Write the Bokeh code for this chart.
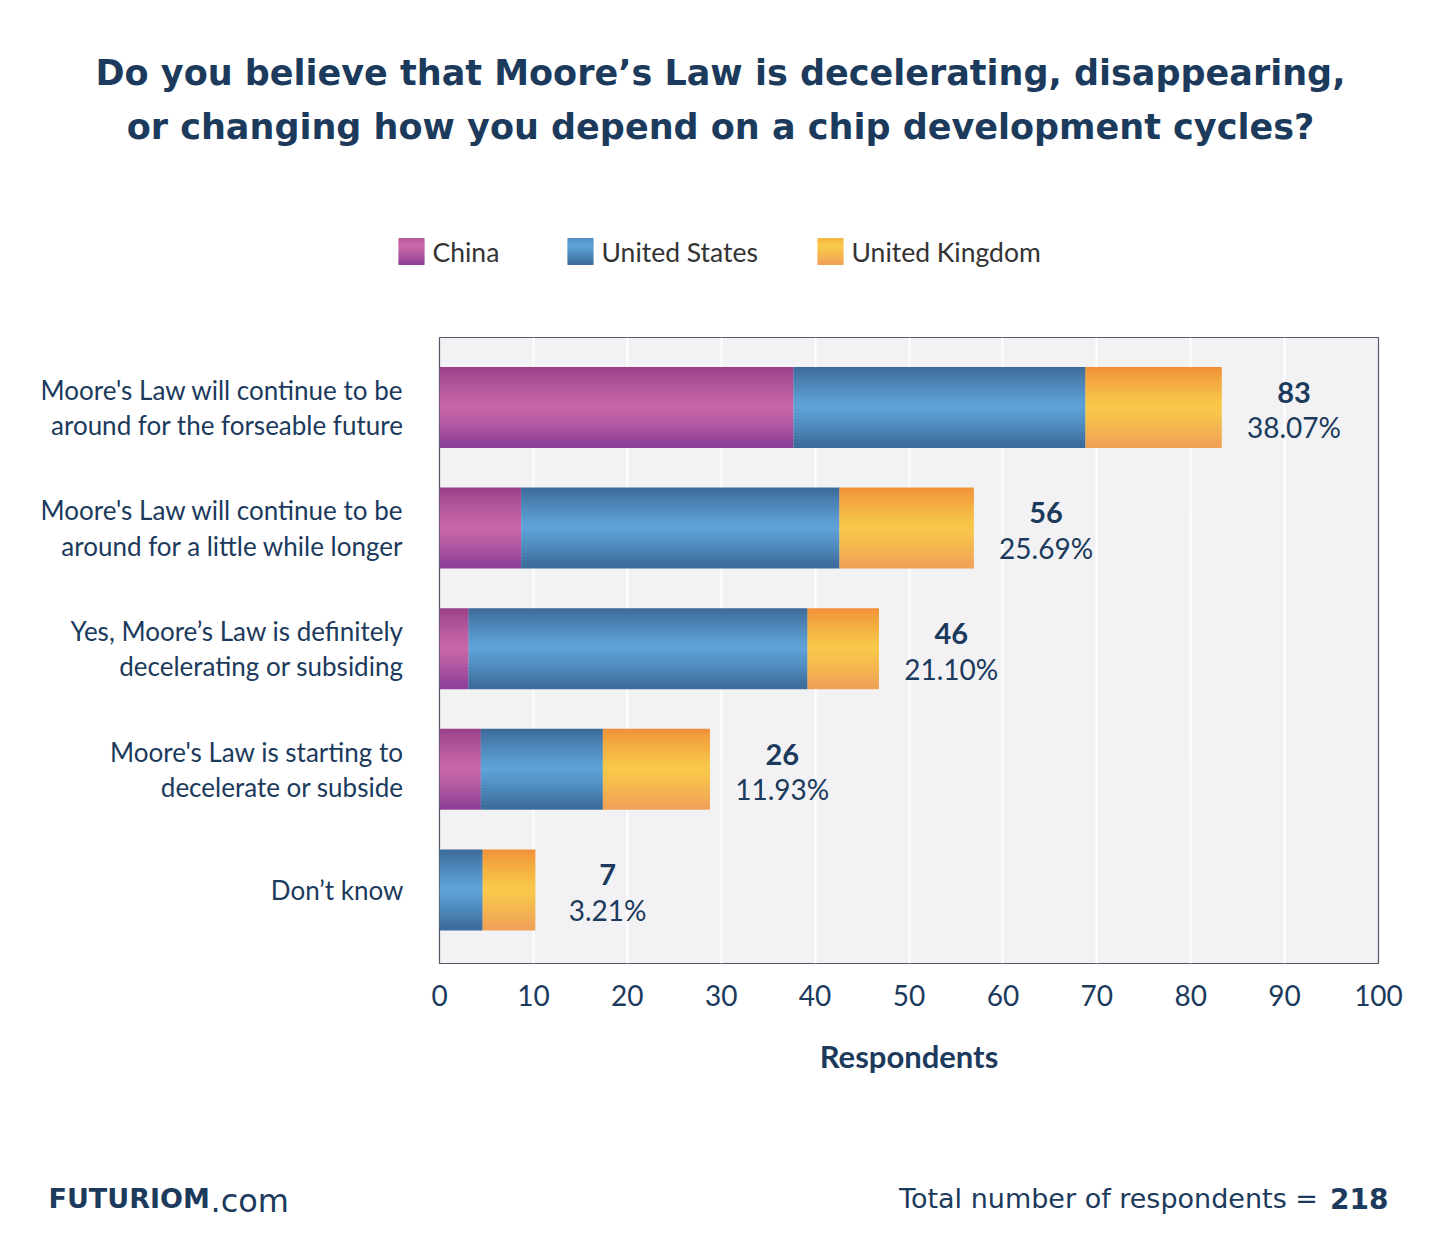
from bokeh.plotting import figure
from bokeh.models import ColumnDataSource, FixedTicker
from bokeh.layouts import column, row
from bokeh.core.properties import value
from bokeh.embed import file_html
from bokeh.resources import INLINE

title_lines = ["Do you believe that Moore\u2019s Law is decelerating, disappearing,",
               "or changing how you depend on a chip development cycles?"]
categories = [
    "Moore's Law will continue to be\naround for the forseable future",
    "Moore's Law will continue to be\naround for a little while longer",
    "Yes, Moore\u2019s Law is definitely\ndecelerating or subsiding",
    "Moore's Law is starting to\ndecelerate or subside",
    "Don\u2019t know",
]
series = ["China", "United States", "United Kingdom"]
china = [37.7, 8.7, 3.1, 4.4, 0.0]
us = [31.1, 33.9, 36.1, 13.0, 4.6]
uk = [14.5, 14.3, 7.6, 11.4, 5.6]
totals = ["83", "56", "46", "26", "7"]
percents = ["38.07%", "25.69%", "21.10%", "11.93%", "3.21%"]
x_ticks = list(range(0, 101, 10))
total_respondents = "218"

NAVY = "#1b3a5c"
profiles = {
    "China": ("#953c86", "#c868a8", "#8b3f97"),
    "United States": ("#386390", "#5fa3d8", "#3a6a99"),
    "United Kingdom": ("#ef8a36", "#f8c94a", "#f0a057"),
}

def hex2rgb(h):
    h = h.lstrip("#")
    return [int(h[i:i + 2], 16) for i in (0, 2, 4)]

def mix(a, b, t):
    ra, rb = hex2rgb(a), hex2rgb(b)
    return "#%02x%02x%02x" % tuple(int(round(ra[i] + (rb[i] - ra[i]) * t)) for i in range(3))

def grad(s, t):
    top, mid, bot = profiles[s]
    if t < 0.5:
        return mix(top, mid, (t / 0.5) ** 0.8)
    return mix(mid, bot, ((t - 0.5) / 0.5) ** 1.2)

W = 1440
H_HEAD, H_MAIN = 327, 803
H_FOOT = 1260 - H_HEAD - H_MAIN

def blank(h, y0):
    f = figure(width=W, height=h, output_backend="svg", toolbar_location=None,
               x_range=(0, W), y_range=(y0 + h, y0), min_border=0,
               x_axis_type=None, y_axis_type=None)
    f.outline_line_color = None
    f.grid.visible = False
    f.background_fill_color = "white"
    f.border_fill_color = "white"
    return f

# ---------------- header: title + legend ----------------
head = blank(H_HEAD, 0)
head.text(x=[720, 720], y=[72, 126], text=title_lines, text_align="center", text_baseline="middle",
          text_font=value("DejaVu Sans"), text_font_style="bold", text_font_size="35px",
          text_color=NAVY)
leg_x = [398, 567, 817]
NL = 12
ld = dict(x=[], y=[], c=[])
for j, s in enumerate(series):
    for k in range(NL):
        t = (k + 0.5) / NL
        ld["x"].append(leg_x[j] + 13)
        ld["y"].append(238 + (k + 0.5) * 26 / NL)
        ld["c"].append(grad(s, 0.3 + 0.7 * t))
head.rect(x="x", y="y", width=26, height=26 / NL + 1, fill_color="c", line_color=None,
          source=ColumnDataSource(ld))
head.text(x=[x + 34 for x in leg_x], y=[251] * 3, text=series, text_align="left",
          text_baseline="middle", text_font=value("Lato"), text_font_size="26.5px",
          text_color="#333333")

# ---------------- main chart ----------------
p = figure(width=W, height=H_MAIN, output_backend="svg", toolbar_location=None,
           x_range=(0, 100), y_range=(-0.61, 4.58),
           min_border_left=439, min_border_right=62, min_border_top=10, min_border_bottom=167)
p.background_fill_color = "#f2f2f5"
p.border_fill_color = "white"
p.outline_line_color = "#4f5a66"
p.outline_line_width = 1.2
p.ygrid.visible = False
p.xgrid.grid_line_color = "white"
p.xgrid.grid_line_width = 2
p.xgrid.ticker = FixedTicker(ticks=x_ticks[1:-1])

rows = list(range(len(categories)))
ypos = [len(categories) - 1 - i for i in rows]

N = 24
BAR_H = 0.672
sh = BAR_H / N
vals = {"China": china, "United States": us, "United Kingdom": uk}
lefts = [0.0] * len(categories)
for s in series:
    d = dict(top=[], bottom=[], left=[], right=[], color=[])
    for i in rows:
        v = vals[s][i]
        if v <= 0:
            continue
        bar_top = ypos[i] + BAR_H / 2
        for k in range(N):
            t = (k + 0.5) / N
            d["top"].append(min(bar_top, bar_top - k * sh + 0.5 * sh))
            d["bottom"].append(bar_top - (k + 1) * sh)
            d["left"].append(lefts[i])
            d["right"].append(lefts[i] + v)
            d["color"].append(grad(s, t))
    p.quad(top="top", bottom="bottom", left="left", right="right", fill_color="color",
           line_color=None, source=ColumnDataSource(d))
    lefts = [lefts[i] + vals[s][i] for i in rows]

ends = lefts
lab_src = ColumnDataSource(dict(x=[e + 7.7 for e in ends], y1=[y + 0.125 for y in ypos],
                                y2=[y - 0.165 for y in ypos], t=totals, pc=percents))
p.text(x="x", y="y1", text="t", source=lab_src, text_align="center", text_baseline="middle",
       text_font=value("Lato"), text_font_style="bold", text_font_size="29px", text_color=NAVY)
p.text(x="x", y="y2", text="pc", source=lab_src, text_align="center", text_baseline="middle",
       text_font=value("Lato"), text_font_size="28px", text_color=NAVY)

p.yaxis.ticker = FixedTicker(ticks=ypos)
p.yaxis.major_label_overrides = {ypos[i]: categories[i] for i in rows}
p.yaxis.major_label_text_font = "Lato"
p.yaxis.major_label_text_font_size = "26px"
p.yaxis.major_label_text_line_height = 1.1
p.yaxis.major_label_text_color = NAVY
p.yaxis.axis_line_color = None
p.yaxis.major_tick_line_color = None
p.yaxis.minor_tick_line_color = None
p.yaxis.major_label_standoff = 30

p.xaxis.ticker = FixedTicker(ticks=x_ticks)
p.xaxis.major_label_text_font = "Lato"
p.xaxis.major_label_text_font_size = "28px"
p.xaxis.major_label_text_color = NAVY
p.xaxis.axis_line_color = None
p.xaxis.major_tick_line_color = None
p.xaxis.minor_tick_line_color = None
p.xaxis.major_label_standoff = 15
p.xaxis.axis_label = "Respondents"
p.xaxis.axis_label_text_font = "Lato"
p.xaxis.axis_label_text_font_style = "bold"
p.xaxis.axis_label_text_font_size = "31px"
p.xaxis.axis_label_text_color = NAVY
p.xaxis.axis_label_standoff = 28

# ---------------- footer ----------------
foot = blank(H_FOOT, H_HEAD + H_MAIN)
foot.text(x=[48], y=[1198], text=["FUTURIOM"], text_align="left", text_baseline="middle",
          text_font=value("DejaVu Sans"), text_font_style="bold", text_font_size="27px",
          text_color=NAVY)
foot.text(x=[210], y=[1200], text=[".com"], text_align="left", text_baseline="middle",
          text_font=value("DejaVu Sans"), text_font_size="32px", text_color=NAVY)
foot.text(x=[1388], y=[1198], text=[total_respondents], text_align="right", text_baseline="middle",
          text_font=value("DejaVu Sans"), text_font_style="bold", text_font_size="28px",
          text_color=NAVY)
foot.text(x=[1326], y=[1198], text=["Total number of respondents = "], text_align="right",
          text_baseline="middle", text_font=value("DejaVu Sans"), text_font_size="27px",
          text_color=NAVY)

layout = column(row(head), p, row(foot), spacing=0)
open("out.html", "w").write(file_html(layout, INLINE))
